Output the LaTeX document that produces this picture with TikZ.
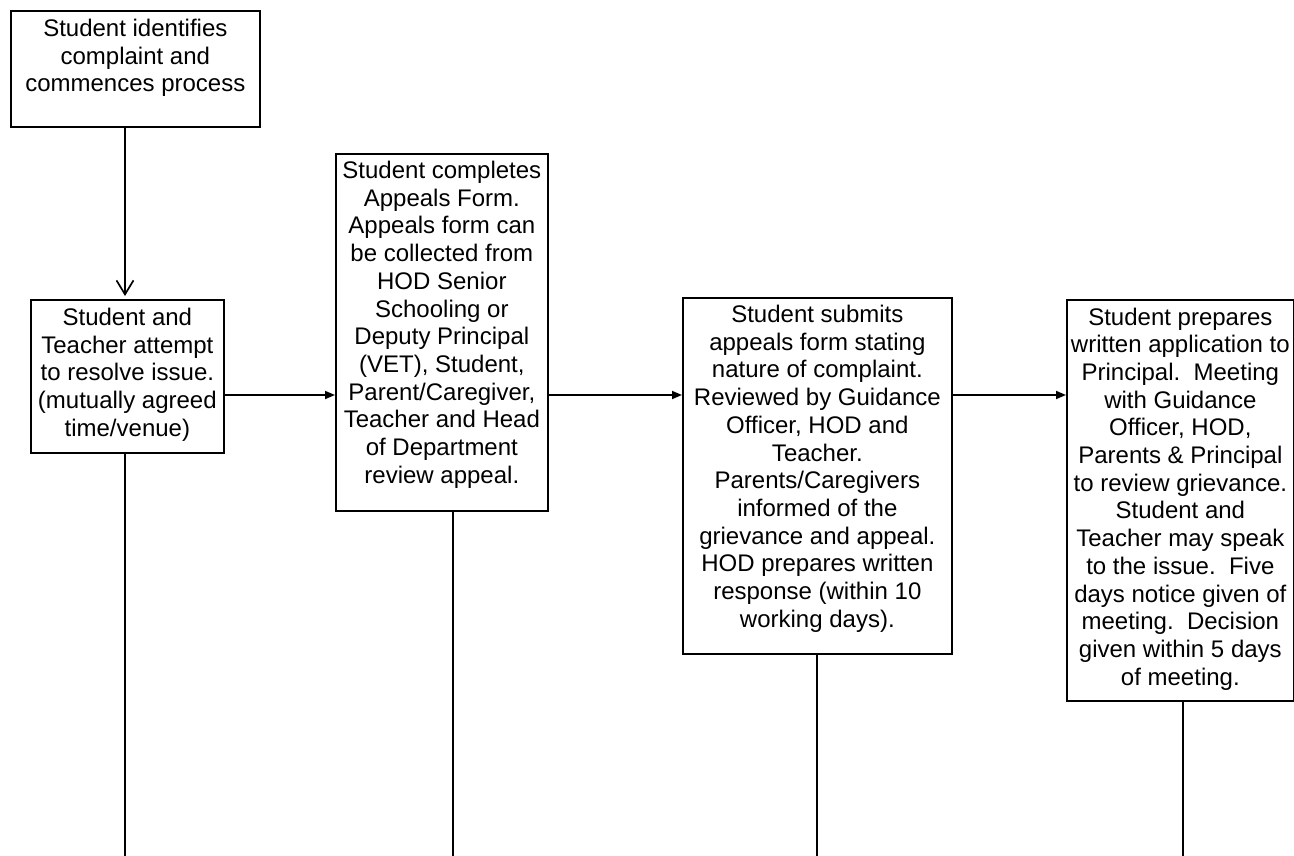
\documentclass[tikz,border=0pt]{standalone}
\usepackage{fontspec}
\setmainfont{Liberation Sans}
\usetikzlibrary{arrows.meta}
\begin{document}
\begin{tikzpicture}[x=1pt,y=-1pt,
  box/.style={draw=black, line width=1.7pt, inner sep=0pt, anchor=north west},
  txt/.style={anchor=north, inner sep=0pt, align=center, font=\fontsize{24}{27.7}\selectfont},
  conn/.style={line width=1.7pt},
  harrow/.style={conn, -{Triangle[length=10pt,width=8pt]}},
  varrow/.style={conn, -{Straight Barb[length=14pt,width=17pt,line width=1.7pt]}, shorten >=3pt}]
\useasboundingbox (0,0) rectangle (1294,856);
\fill[white] (0,0) rectangle (1294,856);
% boxes
\node[box, minimum width=249pt, minimum height=116pt] (b1) at (10,10) {};
\node[box, minimum width=193pt, minimum height=153pt] (b2) at (30,299) {};
\node[box, minimum width=212pt, minimum height=357pt] (b3) at (335,153) {};
\node[box, minimum width=269pt, minimum height=356pt] (b4) at (682,297) {};
\node[box, minimum width=227pt, minimum height=401pt] (b5) at (1066,299) {};
% texts
\node[txt] (t1) at ([yshift=-9pt]b1.north) {Student identifies\\complaint and\\commences process};
\node[txt] (t2) at ([yshift=-9pt]b2.north) {Student and\\Teacher attempt\\to resolve issue.\\(mutually agreed\\time/venue)};
\node[txt] (t3) at ([yshift=-8pt]b3.north) {Student completes\\Appeals Form.\\Appeals form can\\be collected from\\HOD Senior\\Schooling or\\Deputy Principal\\(VET), Student,\\Parent/Caregiver,\\Teacher and Head\\of Department\\review appeal.};
\node[txt] (t4) at ([yshift=-8pt]b4.north) {Student submits\\appeals form stating\\nature of complaint.\\Reviewed by Guidance\\Officer, HOD and\\Teacher.\\Parents/Caregivers\\informed of the\\grievance and appeal.\\HOD prepares written\\response (within 10\\working days).};
\node[txt] (t5) at ([yshift=-8.5pt]b5.north) {Student prepares\\written application to\\Principal.\ \ Meeting\\with Guidance\\Officer, HOD,\\Parents \& Principal\\to review grievance.\\Student and\\Teacher may speak\\to the issue.\ \ Five\\days notice given of\\meeting.\ \ Decision\\given within 5 days\\of meeting.};
% helper coordinates
\coordinate (hy) at (0,395);
\coordinate (x1) at (125,0);
\coordinate (x3) at (453,0);
\coordinate (x4) at (817,0);
\coordinate (x5) at (1183,0);
\coordinate (e2) at (125,856);
\coordinate (e3) at (453,856);
\coordinate (e4) at (817,856);
\coordinate (e5) at (1183,856);
% connectors
\draw[varrow] (b1.south -| x1) -- (b2.north -| x1);
\draw[harrow] (b2.east |- hy) -- (b3.west |- hy);
\draw[harrow] (b3.east |- hy) -- (b4.west |- hy);
\draw[harrow] (b4.east |- hy) -- (b5.west |- hy);
\draw[conn] (b2.south -| x1) -- (e2);
\draw[conn] (b3.south -| x3) -- (e3);
\draw[conn] (b4.south -| x4) -- (e4);
\draw[conn] (b5.south -| x5) -- (e5);
\end{tikzpicture}
\end{document}
